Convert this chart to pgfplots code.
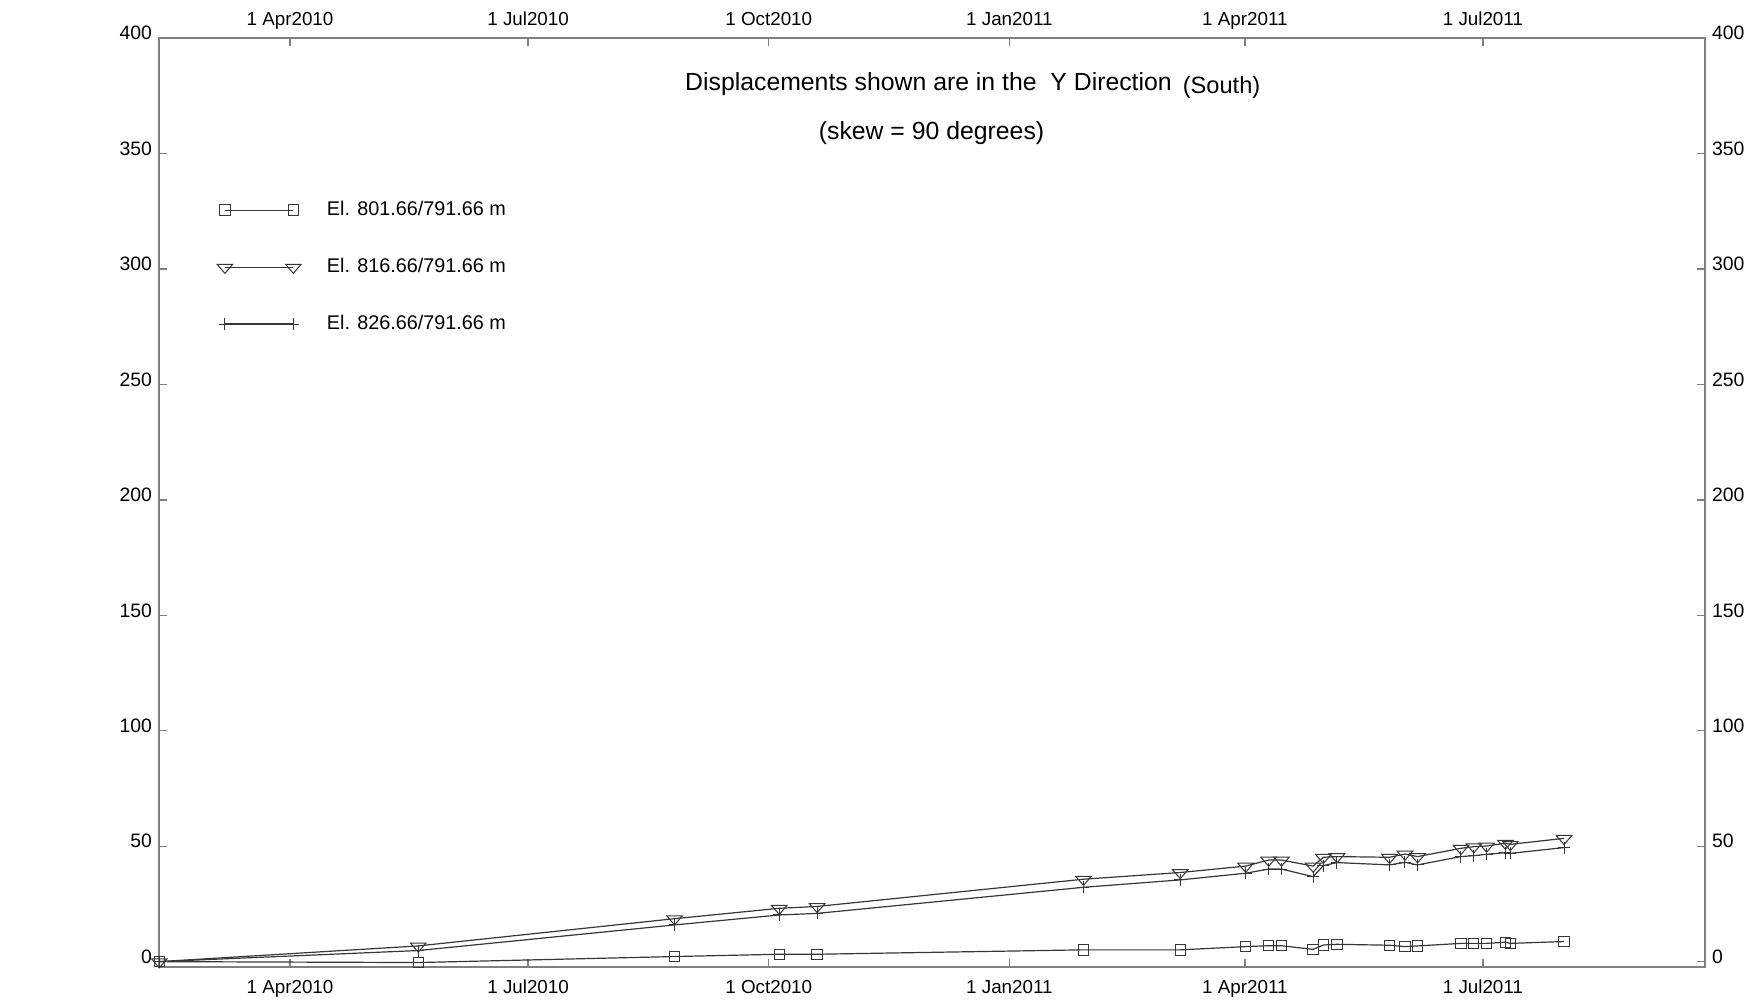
\documentclass[border=0pt]{standalone}
\usepackage{fontspec}
\setmainfont{Liberation Sans}
\usepackage{pgfplots}
\pgfplotsset{compat=1.18}
\usepackage{pgfplotstable}

\definecolor{framegray}{RGB}{128,128,128}
\definecolor{datagray}{RGB}{55,55,55}

\pgfdeclareplotmark{dtri}{%
  \pgfpathmoveto{\pgfqpoint{-1.5\pgfplotmarksize}{0.55\pgfplotmarksize}}%
  \pgfpathlineto{\pgfqpoint{1.5\pgfplotmarksize}{0.55\pgfplotmarksize}}%
  \pgfpathlineto{\pgfqpoint{0pt}{-1.2\pgfplotmarksize}}%
  \pgfpathclose\pgfusepathqstroke}

\pgfplotstableread{
day   s1    s2    s3
40    0.0   0.0   0.0
139   -0.4  6.8   4.8
237   2.2   18.6  15.9
277   3.2   23.1  20.2
291.5 3.2   23.9  20.9
393.3 5.1   35.7  32.2
430.3 5.1   38.6  35.4
455.3 6.5   41.4  38.3
464.1 6.9   44.0  40.1
469   6.9   44.0  40.1
481.1 5.3   41.4  36.8
485   7.2   45.2  41.6
490.2 7.5   45.5  42.9
510.3 7.1   45.2  41.9
516.2 6.5   46.6  43.0
521   6.8   45.5  41.9
537.6 7.9   49.1  45.5
542.5 7.9   49.8  45.9
547.4 7.9   50.1  46.5
554.6 8.4   51.3  47.2
556.5 7.9   50.8  46.9
577   8.7   53.4  49.4
}\datatable

\pgfplotsset{
  commonaxis/.style={
    scale only axis,
    width=773pt, height=464.2pt,
    xmin=39.9, xmax=630.9,
    ymin=-2.2, ymax=400,
    xtick={90,181,273,365,455,546},
    xticklabels={1 Apr2010,1 Jul2010,1 Oct2010,1 Jan2011,1 Apr2011,1 Jul2011},
    ytick={0,50,100,150,200,250,300,350,400},
    /pgf/number format/assume math mode=true,
    tick align=inside,
    major tick length=4pt,
    xticklabel style={font=\fontsize{9.4}{11}\selectfont, text=black},
    yticklabel style={font=\fontsize{9.7}{11}\selectfont, text=black, yshift=2.5pt},
  }
}

\begin{document}
\begin{tikzpicture}
\begin{axis}[
  commonaxis,
  axis line style={framegray, line width=0.9pt},
  tick style={framegray, line width=0.7pt},
  xtick pos=both, ytick pos=both,
  xticklabel pos=lower, yticklabel pos=left,
  xticklabel style={anchor=base, yshift=-13.2pt},
  legend style={draw=none, fill=none, inner sep=0pt, outer sep=0pt,
    at={(rel axis cs:0.0376,0.8242)}, anchor=north west,
    row sep=19.8pt, column sep=12.9pt,
    font=\fontsize{9.9}{12}\selectfont, nodes={inner sep=0pt}},
  legend cell align=left,
  legend image code/.code={\draw[#1,mark repeat=1,mark phase=1] plot coordinates {(0pt,0pt) (34.2pt,0pt)};},
]
\addplot[datagray, line width=0.6pt, mark=square, mark size=2.6pt, mark options={solid, line width=0.5pt, fill=none}] table[x=day, y=s1] {\datatable};
\addlegendentry{El. 801.66/791.66 m}
\addplot[datagray, line width=0.6pt, mark=dtri, mark size=2.6pt, mark options={solid, line width=0.5pt}] table[x=day, y=s2] {\datatable};
\addlegendentry{El. 816.66/791.66 m}
\addplot[datagray, line width=0.6pt, mark=+, mark size=3pt, mark options={solid, line width=0.5pt}] table[x=day, y=s3] {\datatable};
\addlegendentry{El. 826.66/791.66 m}

\node[anchor=base west, inner sep=0pt, font=\fontsize{12.4}{14}\selectfont] at (rel axis cs:0.3401,0.9436) {Displacements shown are in the\ \ Y Direction};
\node[anchor=base west, inner sep=0pt, font=\fontsize{11.8}{14}\selectfont] at (rel axis cs:0.662,0.9408) {(South)};
\node[anchor=base, inner sep=0pt, font=\fontsize{12.4}{14}\selectfont] at (rel axis cs:0.4997,0.8905) {(skew = 90 degrees)};
\node[anchor=base west, inner sep=0pt, font=\fontsize{9.6}{11}\selectfont] at (rel axis cs:-0.0938,0.4399) {Displ.};
\node[anchor=base west, inner sep=0pt, font=\fontsize{9.6}{11}\selectfont] at (rel axis cs:-0.0938,0.4039) {(mm)};
\end{axis}
\begin{axis}[
  commonaxis,
  axis line style={draw=none},
  major tick length=0pt,
  xticklabel pos=upper, yticklabel pos=right,
  xticklabel style={anchor=base, yshift=6.15pt},
]
\end{axis}
\pgfresetboundingbox
\path (-79.5pt,-17.15pt) rectangle (798.5pt,483.35pt);
\end{tikzpicture}
\end{document}
